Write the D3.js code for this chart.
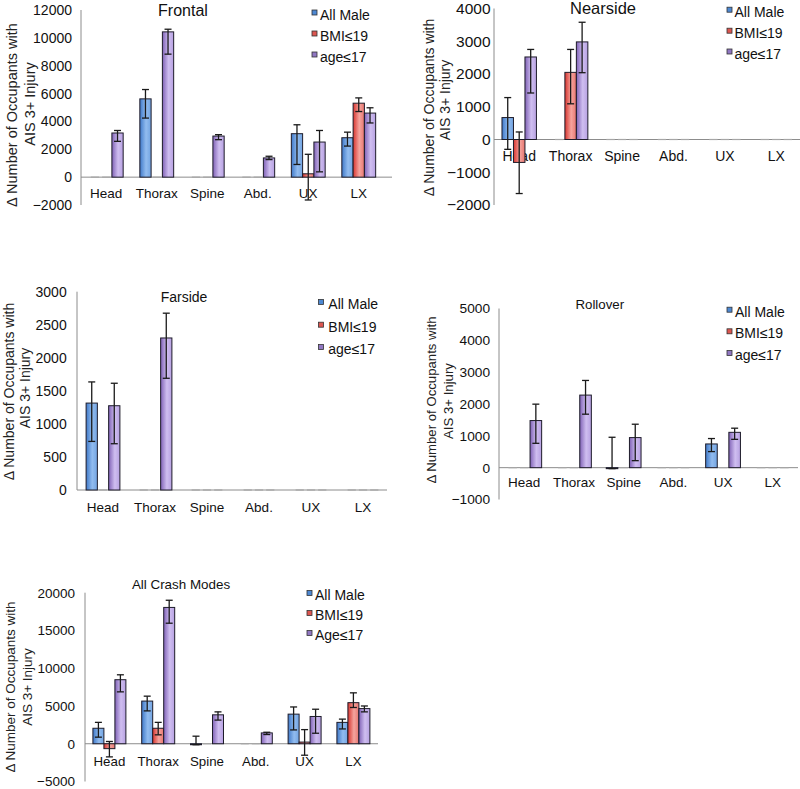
<!DOCTYPE html>
<html><head><meta charset="utf-8">
<script src="https://cdn.jsdelivr.net/npm/d3@7"></script>
<style>
body{margin:0;background:#fff}
svg{display:block}
</style>
</head><body>
<svg id="c" width="800" height="789"></svg>
<script>
// ---------- DATA ----------
const categories = ["Head", "Thorax", "Spine", "Abd.", "UX", "LX"];
const seriesNames = ["All Male", "BMI≤19", "age≤17"];
const seriesNamesAll = ["All Male", "BMI≤19", "Age≤17"];
const yTitleLines = ["Δ Number of Occupants with", "AIS 3+ Injury"];

// Frontal  (rows: All Male, BMI≤19, age≤17)
const frontalTitle = "Frontal";
const frontalTicks = [-2000, 0, 2000, 4000, 6000, 8000, 10000, 12000];
const frontalValues = [
  [0, 5620, 0, 0, 3120, 2830],
  [0, 0, 0, 0, 240, 5310],
  [3170, 10430, 2950, 1380, 2520, 4600]
];
const frontalErrPlus = [
  [0, 670, 0, 0, 640, 400],
  [0, 0, 0, 0, 1400, 380],
  [180, 190, 100, 120, 830, 380]
];
const frontalErrMinus = [
  [0, 1380, 0, 0, 2210, 600],
  [0, 0, 0, 0, 1880, 600],
  [600, 1600, 260, 120, 2140, 710]
];

// Nearside
const nearsideTitle = "Nearside";
const nearsideTicks = [-2000, -1000, 0, 1000, 2000, 3000, 4000];
const nearsideValues = [
  [670, 0, 0, 0, 0, 0],
  [-700, 2050, 0, 0, 0, 0],
  [2520, 2980, 0, 0, 0, 0]
];
const nearsideErrPlus = [
  [610, 0, 0, 0, 0, 0],
  [930, 700, 0, 0, 0, 0],
  [230, 600, 0, 0, 0, 0]
];
const nearsideErrMinus = [
  [970, 0, 0, 0, 0, 0],
  [950, 960, 0, 0, 0, 0],
  [1100, 940, 0, 0, 0, 0]
];

// Farside
const farsideTitle = "Farside";
const farsideTicks = [0, 500, 1000, 1500, 2000, 2500, 3000];
const farsideValues = [
  [1315, 0, 0, 0, 0, 0],
  [0, 0, 0, 0, 0, 0],
  [1275, 2300, 0, 0, 0, 0]
];
const farsideErrPlus = [
  [320, 0, 0, 0, 0, 0],
  [0, 0, 0, 0, 0, 0],
  [340, 375, 0, 0, 0, 0]
];
const farsideErrMinus = [
  [580, 0, 0, 0, 0, 0],
  [0, 0, 0, 0, 0, 0],
  [575, 610, 0, 0, 0, 0]
];

// Rollover
const rolloverTitle = "Rollover";
const rolloverTicks = [-1000, 0, 1000, 2000, 3000, 4000, 5000];
const rolloverValues = [
  [0, 0, -30, 0, 745, 0],
  [0, 0, 0, 0, 0, 0],
  [1480, 2280, 945, 0, 1110, 0]
];
const rolloverErrPlus = [
  [0, 0, 985, 0, 170, 0],
  [0, 0, 0, 0, 0, 0],
  [515, 460, 420, 0, 130, 0]
];
const rolloverErrMinus = [
  [0, 0, 0, 0, 240, 0],
  [0, 0, 0, 0, 0, 0],
  [715, 600, 725, 0, 220, 0]
];

// All Crash Modes
const allTitle = "All Crash Modes";
const allTicks = [-5000, 0, 5000, 10000, 15000, 20000];
const allValues = [
  [2050, 5650, -100, 0, 3920, 2830],
  [-650, 2050, 0, 0, 220, 5440],
  [8480, 18050, 3830, 1435, 3610, 4655]
];
const allErrPlus = [
  [780, 650, 1100, 0, 950, 430],
  [950, 780, 0, 0, 1650, 1300],
  [650, 950, 390, 85, 960, 345]
];
const allErrMinus = [
  [1180, 1300, 30, 0, 2090, 870],
  [1090, 870, 0, 0, 1740, 640],
  [1610, 2090, 700, 215, 2220, 435]
];

// ---------- STYLE ----------
const FONT = '"Liberation Sans", Arial, Helvetica, sans-serif';
const AXIS_COLOR = "#8c8c8c";
const TEXT_COLOR = "#111";
const gradStops = [
  [["0", "#3f79c9"], ["0.55", "#92bcef"], ["1", "#72a4e2"]],
  [["0", "#d8352f"], ["0.55", "#f5a49e"], ["1", "#e8766f"]],
  [["0", "#8062b6"], ["0.55", "#cfbef0"], ["1", "#b7a1e2"]]
];
const legendColors = ["#4d88d2", "#dc5650", "#9077c2"];

const svg = d3.select("#c");
const defs = svg.append("defs");
gradStops.forEach((stops, i) => {
  const lg = defs.append("linearGradient").attr("id", "g" + i)
    .attr("x1", "0").attr("x2", "1").attr("y1", "0").attr("y2", "0");
  stops.forEach(s => lg.append("stop").attr("offset", s[0]).attr("stop-color", s[1]));
});

function drawPanel(cfg) {
  const g = svg.append("g");
  const y = d3.scaleLinear()
    .domain([cfg.ticks[0], cfg.ticks[cfg.ticks.length - 1]])
    .range([cfg.yBottom, cfg.yTop]);
  const x = d3.scaleBand().domain(categories).range([cfg.x0, cfg.x1]).padding(0);
  const bw = x.bandwidth();
  const xs = d3.scaleBand().domain([0, 1, 2]).range([bw * cfg.gpad, bw * (1 - cfg.gpad)]).padding(0);

  // y axis labels via d3 axis
  const ax = d3.axisLeft(y).tickValues(cfg.ticks).tickSize(0)
    .tickPadding(cfg.axisX - cfg.labelRight).tickFormat(d3.format("d"));
  const axg = g.append("g").attr("transform", `translate(${cfg.axisX},0)`).call(ax);
  axg.select(".domain").remove();
  axg.attr("font-family", FONT).attr("font-size", cfg.tickFont);
  axg.selectAll("text").attr("fill", TEXT_COLOR);

  // axis lines
  g.append("line").attr("x1", cfg.axisX).attr("x2", cfg.axisX)
    .attr("y1", cfg.yTop).attr("y2", cfg.yBottom)
    .attr("stroke", AXIS_COLOR).attr("stroke-width", 1);
  g.append("line").attr("x1", cfg.axisX).attr("x2", cfg.lineEnd)
    .attr("y1", y(0)).attr("y2", y(0))
    .attr("stroke", AXIS_COLOR).attr("stroke-width", 1);

  // category labels
  g.append("g").selectAll("text").data(categories).join("text")
    .attr("x", d => x(d) + bw / 2).attr("y", cfg.catY)
    .attr("text-anchor", "middle").attr("font-family", FONT)
    .attr("font-size", cfg.catFont).attr("fill", TEXT_COLOR).text(d => d);

  // bars
  const bars = g.append("g");
  const errs = g.append("g");
  cfg.values.forEach((row, s) => {
    row.forEach((v, i) => {
      const bx = x(categories[i]) + xs(s);
      const w = xs.bandwidth();
      if (v === 0) {
        bars.append("line").attr("x1", bx + 1.5).attr("x2", bx + w - 1.5)
          .attr("y1", y(0)).attr("y2", y(0))
          .attr("stroke", "#a6a6a6").attr("stroke-width", 1.2);
      } else {
        bars.append("rect").attr("x", bx).attr("width", w)
          .attr("y", Math.min(y(v), y(0))).attr("height", Math.max(1, Math.abs(y(v) - y(0))))
          .attr("fill", `url(#g${s})`).attr("stroke", "#1e1c2a").attr("stroke-width", 1);
      }
      const p = cfg.errPlus[s][i], m = cfg.errMinus[s][i];
      if (p > 0 || m > 0) {
        const cx = bx + w / 2;
        const yt = y(v + p), yb = y(v - m);
        errs.append("line").attr("x1", cx).attr("x2", cx).attr("y1", yt).attr("y2", yb)
          .attr("stroke", "#1a1a1a").attr("stroke-width", 1.3);
        [yt, yb].forEach(yy => errs.append("line").attr("x1", cx - 3.5).attr("x2", cx + 3.5)
          .attr("y1", yy).attr("y2", yy).attr("stroke", "#1a1a1a").attr("stroke-width", 1.3));
      }
    });
  });

  // title
  g.append("text").attr("x", cfg.title.x).attr("y", cfg.title.y)
    .attr("text-anchor", "middle").attr("font-family", FONT)
    .attr("font-size", cfg.title.size).attr("fill", TEXT_COLOR).text(cfg.title.text);

  // legend
  const lg = g.append("g");
  cfg.names.forEach((n, s) => {
    const by = cfg.legend.base[s];
    lg.append("rect").attr("x", cfg.legend.sqX).attr("y", by - 9.5).attr("width", 5).attr("height", 5)
      .attr("fill", legendColors[s]).attr("stroke", "#333").attr("stroke-width", 0.8);
    lg.append("text").attr("x", cfg.legend.textX).attr("y", by)
      .attr("font-family", FONT).attr("font-size", 14).attr("fill", TEXT_COLOR).text(n);
  });

  // y title (rotated, two lines)
  yTitleLines.forEach((t, k) => {
    const yt = cfg.ytitle[k];
    g.append("text").attr("transform", `translate(${yt.x},${yt.cy}) rotate(-90)`)
      .attr("text-anchor", "middle").attr("font-family", FONT)
      .attr("font-size", cfg.ytitleFont).attr("fill", "#222").text(t);
  });
}

drawPanel({
  ticks: frontalTicks, values: frontalValues, errPlus: frontalErrPlus, errMinus: frontalErrMinus,
  names: seriesNames,
  axisX: 81, labelRight: 72, yTop: 10, yBottom: 205, x0: 81, x1: 384, lineEnd: 392, gpad: 0.165,
  tickFont: 14, catFont: 13.5, catY: 198,
  title: {text: frontalTitle, x: 183, y: 16, size: 16},
  legend: {sqX: 312, textX: 320, base: [19.5, 40.5, 61.5]},
  ytitleFont: 14.5, ytitle: [{x: 17, cy: 115}, {x: 35, cy: 104}]
});

drawPanel({
  ticks: nearsideTicks, values: nearsideValues, errPlus: nearsideErrPlus, errMinus: nearsideErrMinus,
  names: seriesNames,
  axisX: 494, labelRight: 490.5, yTop: 8.5, yBottom: 205, x0: 493.5, x1: 802, lineEnd: 800, gpad: 0.165,
  tickFont: 15.5, catFont: 14, catY: 161,
  title: {text: nearsideTitle, x: 603, y: 14, size: 16.5},
  legend: {sqX: 727, textX: 734.5, base: [16.7, 37.7, 58.5]},
  ytitleFont: 14, ytitle: [{x: 433.5, cy: 107.5}, {x: 450, cy: 100}]
});

drawPanel({
  ticks: farsideTicks, values: farsideValues, errPlus: farsideErrPlus, errMinus: farsideErrMinus,
  names: seriesNames,
  axisX: 77, labelRight: 66.7, yTop: 291.7, yBottom: 490, x0: 77, x1: 389, lineEnd: 387, gpad: 0.175,
  tickFont: 14, catFont: 13.5, catY: 511.7,
  title: {text: farsideTitle, x: 184, y: 301.7, size: 14},
  legend: {sqX: 318.5, textX: 328.3, base: [309, 331.7, 354]},
  ytitleFont: 14, ytitle: [{x: 13.5, cy: 391.5}, {x: 30, cy: 388}]
});

drawPanel({
  ticks: rolloverTicks, values: rolloverValues, errPlus: rolloverErrPlus, errMinus: rolloverErrMinus,
  names: seriesNames,
  axisX: 499, labelRight: 490, yTop: 308.5, yBottom: 499.5, x0: 499.4, x1: 797.6, lineEnd: 798, gpad: 0.15,
  tickFont: 13.7, catFont: 13.5, catY: 487.3,
  title: {text: rolloverTitle, x: 599.8, y: 309.3, size: 13.3},
  legend: {sqX: 727, textX: 735, base: [316.7, 338.3, 360]},
  ytitleFont: 13.2, ytitle: [{x: 436, cy: 400}, {x: 453, cy: 401}]
});

drawPanel({
  ticks: allTicks, values: allValues, errPlus: allErrPlus, errMinus: allErrMinus,
  names: seriesNamesAll,
  axisX: 85, labelRight: 75, yTop: 592.7, yBottom: 781.5, x0: 85, x1: 377.8, lineEnd: 378, gpad: 0.162,
  tickFont: 13.5, catFont: 13.3, catY: 765.7,
  title: {text: allTitle, x: 181, y: 589.3, size: 13.4},
  legend: {sqX: 307, textX: 315, base: [600, 620, 640]},
  ytitleFont: 13.5, ytitle: [{x: 15, cy: 687}, {x: 31.7, cy: 687}]
});
</script>
</body></html>
